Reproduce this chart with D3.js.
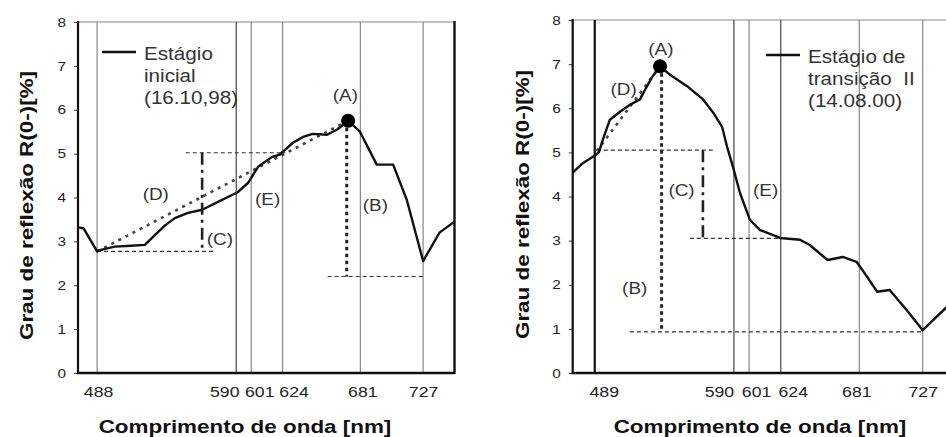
<!DOCTYPE html>
<html>
<head>
<meta charset="utf-8">
<script src="https://cdn.jsdelivr.net/npm/d3@7"></script>
<style>
  body { margin: 0; background: #fff; }
  svg text { font-family: "Liberation Sans", Arial, sans-serif; white-space: pre; }
</style>
</head>
<body>
<script>
// ---- data (wavelength in nm, reflectance in %) ----
const yTicks = [0, 1, 2, 3, 4, 5, 6, 7, 8];

const bandsInicial = [488, 590, 601, 624, 681, 727];
const bandsTransicao = [489, 590, 601, 624, 681, 727];

const nmInicial = [474, 478, 488, 490, 501, 513, 523, 530.5, 538, 545, 554.6, 565, 576.6, 591, 598.6, 606, 616, 622, 631.6, 639, 646, 656.5, 664, 672, 680.7, 693, 705, 715, 727, 739, 750];
const rInicial = [3.32, 3.3, 2.77, 2.8, 2.88, 2.9, 2.92, 3.15, 3.37, 3.53, 3.65, 3.72, 3.9, 4.12, 4.33, 4.7, 4.92, 4.98, 5.25, 5.38, 5.45, 5.43, 5.55, 5.75, 5.5, 4.75, 4.75, 3.95, 2.55, 3.2, 3.45];

const nmTransicao = [473, 480.5, 487.7, 492, 495, 500, 507.3, 514.6, 521.8, 525.5, 530.5, 536.4, 543.6, 556, 567.6, 575, 581.4, 585, 589.3, 594.4, 601.6, 609, 623.5, 638, 645, 658, 669, 679, 686.6, 694, 703, 715.5, 727, 737, 744.6, 750];
const rTransicao = [4.54, 4.76, 4.9, 5.0, 5.3, 5.74, 5.92, 6.08, 6.2, 6.42, 6.7, 6.95, 6.76, 6.5, 6.2, 5.9, 5.58, 5.13, 4.67, 4.08, 3.47, 3.24, 3.06, 3.02, 2.9, 2.56, 2.63, 2.52, 2.18, 1.84, 1.88, 1.42, 0.97, 1.27, 1.5, 1.62];

// peak (A) and straight continuum line (D)
const peakInicial = [672, 5.75];
const contInicial = [[488, 2.77], [672, 5.75]];
const peakTransicao = [536.4, 6.95];
const contTransicao = [[490.5, 5.03], [536.4, 6.95]];

// segments [nm1, r1, nm2, r2]
const guidesInicial = [[553, 5.02, 626, 5.02], [488, 2.77, 573, 2.77], [657, 2.2, 727, 2.2]];
const depthInicial = [[565, 5.02, 565, 2.77]];
const dropInicial = [[671, 5.75, 671, 2.2]];
const guidesTransicao = [[490.5, 5.05, 575, 5.05], [558, 3.05, 624, 3.05], [514.5, 0.93, 727, 0.93]];
const depthTransicao = [[567.5, 5.05, 567.5, 3.05]];
const dropTransicao = [[537.5, 6.95, 537.5, 0.93]];

// [text, nm, r]
const labelsInicial = [["(A)", 670, 6.2], ["(B)", 692, 3.69], ["(C)", 578, 2.92], ["(D)", 531, 3.94], ["(E)", 613, 3.83]];
const labelsTransicao = [["(A)", 537, 7.2], ["(B)", 518, 1.79], ["(C)", 552, 4.01], ["(D)", 510, 6.29], ["(E)", 613, 4.01]];

const legendInicial = ["Estágio", "inicial", "(16.10,98)"];
const legendTransicao = ["Estágio de", "transição  II", "(14.08.00)"];

const xTitle = "Comprimento de onda [nm]";
const yTitle = "Grau de reflexão R(0-)[%]";

// ---- layout ----
const W = 946, H = 437;
const svg = d3.select("body").append("svg").attr("width", W).attr("height", H);

const panels = [
  {
    left: 78, right: 454.5, top: 22, bottom: 373, domain: [474, 750],
    bands: bandsInicial, dark: [590], heavy: [],
    shift: { 488: 1, 590: -12, 601: 8, 624: 11, 681: 2, 727: 0 },
    nm: nmInicial, r: rInicial, peak: peakInicial, cont: contInicial,
    guides: guidesInicial, depth: depthInicial, drop: dropInicial,
    labels: labelsInicial, legend: legendInicial, legendX: 102, legendY: 52,
    xTitleX: 245, yTitleX: 33, rightBorder: true
  },
  {
    left: 572.7, right: 954.4, top: 20, bottom: 373, domain: [473, 750],
    bands: bandsTransicao, dark: [590, 624], heavy: [489],
    shift: { 489: 9, 590: -15, 601: 7, 624: 12, 681: -3, 727: 0 },
    nm: nmTransicao, r: rTransicao, peak: peakTransicao, cont: contTransicao,
    guides: guidesTransicao, depth: depthTransicao, drop: dropTransicao,
    labels: labelsTransicao, legend: legendTransicao, legendX: 766, legendY: 55,
    xTitleX: 760, yTitleX: 529, rightBorder: false
  }
];

const drawPanel = (p) => {
  const x = d3.scaleLinear().domain(p.domain).range([p.left, p.right]);
  const y = d3.scaleLinear().domain([0, 8]).range([p.bottom, p.top]);
  const g = svg.append("g");

  // top border
  g.append("line")
    .attr("x1", p.left).attr("x2", p.right)
    .attr("y1", p.top).attr("y2", p.top)
    .attr("stroke", "#888").attr("stroke-width", 1.2);

  // band lines
  g.append("g")
    .selectAll("line")
    .data(p.bands)
    .join("line")
    .attr("x1", d => x(d)).attr("x2", d => x(d))
    .attr("y1", p.top).attr("y2", p.bottom)
    .attr("stroke", d => p.heavy.includes(d) ? "#111" : p.dark.includes(d) ? "#444" : "#888")
    .attr("stroke-width", d => p.heavy.includes(d) ? 2.2 : 1.2);

  // x tick labels at the bands
  g.append("g")
    .attr("transform", `translate(0,${p.bottom})`)
    .call(d3.axisBottom(x).tickValues(p.bands).tickSize(0).tickPadding(13).tickFormat(d3.format("d")))
    .call(a => a.select(".domain").remove())
    .selectAll("text")
    .attr("font-size", 15)
    .attr("font-family", null)
    .attr("fill", "#222")
    .attr("dx", d => p.shift[d] || 0);

  // y axis
  g.append("g")
    .attr("transform", `translate(${p.left},0)`)
    .call(d3.axisLeft(y).tickValues(yTicks).tickSize(4).tickPadding(8).tickFormat(d3.format("d")))
    .call(a => a.select(".domain").remove())
    .call(a => a.selectAll("line").attr("stroke", "#444"))
    .selectAll("text")
    .attr("font-size", 13)
    .attr("font-family", null)
    .attr("fill", "#222");

  // frame
  g.append("line").attr("x1", p.left).attr("x2", p.left).attr("y1", p.top - 1).attr("y2", p.bottom + 1)
    .attr("stroke", "#111").attr("stroke-width", 2.2);
  g.append("line").attr("x1", p.left - 1).attr("x2", p.right).attr("y1", p.bottom).attr("y2", p.bottom)
    .attr("stroke", "#111").attr("stroke-width", 2.6);
  if (p.rightBorder) {
    g.append("line").attr("x1", p.right).attr("x2", p.right).attr("y1", p.top - 1).attr("y2", p.bottom + 1)
      .attr("stroke", "#111").attr("stroke-width", 2.4);
  }

  const seg = (sel) => sel
    .attr("x1", d => x(d[0])).attr("y1", d => y(d[1]))
    .attr("x2", d => x(d[2])).attr("y2", d => y(d[3]));

  // thin dashed guides
  g.append("g").selectAll("line").data(p.guides).join("line").call(seg)
    .attr("stroke", "#333").attr("stroke-width", 1.2).attr("stroke-dasharray", "4,3");

  // continuum (D)
  g.append("line")
    .attr("x1", x(p.cont[0][0])).attr("y1", y(p.cont[0][1]))
    .attr("x2", x(p.cont[1][0])).attr("y2", y(p.cont[1][1]))
    .attr("stroke", "#444").attr("stroke-width", 2.6).attr("stroke-dasharray", "3,5");

  // depth (C) dash-dot
  g.append("g").selectAll("line").data(p.depth).join("line").call(seg)
    .attr("stroke", "#222").attr("stroke-width", 2.6).attr("stroke-dasharray", "12,5,3,5");

  // drop (B) thick dotted
  g.append("g").selectAll("line").data(p.drop).join("line").call(seg)
    .attr("stroke", "#222").attr("stroke-width", 3).attr("stroke-dasharray", "3.5,3.5");

  // spectrum
  const pts = p.nm.map((d, i) => [d, p.r[i]]);
  g.append("path")
    .datum(pts)
    .attr("fill", "none")
    .attr("stroke", "#111")
    .attr("stroke-width", 2.4)
    .attr("stroke-linejoin", "round")
    .attr("d", d3.line().x(d => x(d[0])).y(d => y(d[1])));

  // peak marker (A)
  g.append("circle")
    .attr("cx", x(p.peak[0])).attr("cy", y(p.peak[1]))
    .attr("r", 7).attr("fill", "#000");

  // letter labels
  g.append("g").selectAll("text").data(p.labels).join("text")
    .attr("x", d => x(d[1])).attr("y", d => y(d[2]))
    .attr("text-anchor", "middle")
    .attr("font-size", 16)
    .attr("fill", "#333")
    .text(d => d[0]);

  // legend
  g.append("line")
    .attr("x1", p.legendX).attr("x2", p.legendX + 34)
    .attr("y1", p.legendY).attr("y2", p.legendY)
    .attr("stroke", "#111").attr("stroke-width", 2.6);
  g.append("g").selectAll("text").data(p.legend).join("text")
    .attr("x", p.legendX + 42)
    .attr("y", (d, i) => p.legendY + 8 + i * 22)
    .attr("font-size", 17.5)
    .attr("fill", "#333")
    .text(d => d);

  // axis titles
  g.append("text")
    .attr("x", p.xTitleX).attr("y", 433)
    .attr("text-anchor", "middle")
    .attr("font-size", 19).attr("font-weight", "bold").attr("fill", "#111")
    .text(xTitle);
  g.append("text")
    .attr("transform", `translate(${p.yTitleX},${(p.top + p.bottom) / 2 + 8}) rotate(-90)`)
    .attr("text-anchor", "middle")
    .attr("font-size", 19).attr("font-weight", "bold").attr("fill", "#111")
    .text(yTitle);
};

panels.forEach(drawPanel);

// the scanned figure is a little wider than tall: stretch every text horizontally
svg.selectAll("text").each(function () {
  const w = this.getComputedTextLength();
  d3.select(this).attr("textLength", w * 1.18).attr("lengthAdjust", "spacingAndGlyphs");
});
</script>
</body>
</html>
